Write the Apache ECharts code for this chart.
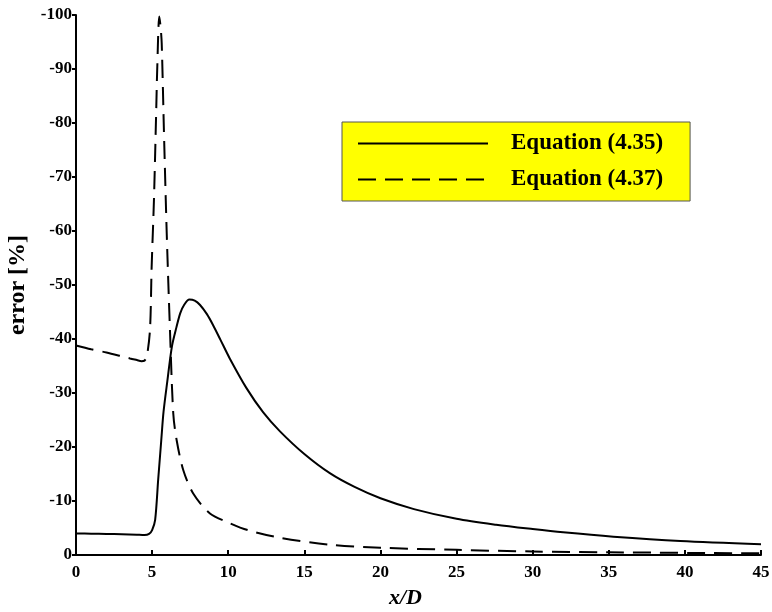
<!DOCTYPE html>
<html>
<head>
<meta charset="utf-8">
<title>error vs x/D</title>
<script src="https://cdn.jsdelivr.net/npm/echarts@6/dist/echarts.min.js"></script>
<style>
    html, body { margin: 0; padding: 0; background: #fff; }
    #chart { width: 772px; height: 612px; }
</style>
</head>
<body>
<div id="chart"></div>
<script>
'use strict';

// Equation (4.35), solid line
var eq435X = [0, 1, 2, 3, 4, 4.5, 4.8, 5.0, 5.2, 5.4, 5.6, 5.75, 6.0, 6.3, 6.6, 6.85, 7.1,
    7.45, 7.8, 8.15, 8.6, 9.0, 9.5, 10.1, 11.2, 12.3, 13.4, 15, 16.7, 18.3, 20, 22.2, 25,
    27.6, 30, 32, 35.3, 39.7, 45];
var eq435Y = [-4.0, -3.95, -3.9, -3.85, -3.75, -3.7, -3.9, -4.6, -6.5, -14, -21.2, -26.5,
    -32.2, -38.6, -42.2, -44.8, -46.3, -47.3, -47.1, -46.3, -44.6, -42.6, -39.8, -36.4,
    -30.9, -26.4, -22.9, -18.7, -15.1, -12.6, -10.5, -8.5, -6.7, -5.6, -4.8, -4.2, -3.4,
    -2.6, -2.0];

// Equation (4.37), dashed line
var eq437X = [0, 1, 2, 3, 3.55, 4.0, 4.3, 4.5, 4.65, 4.86, 4.97, 5.12, 5.26, 5.34, 5.47,
    5.55, 5.63, 5.78, 5.96, 6.18, 6.39, 6.61, 7.05, 7.7, 8.8, 10.1, 11.3, 13.4, 16.7, 20,
    25, 30, 35, 45];
var eq437Y = [-38.8, -38.1, -37.5, -36.8, -36.4, -36.1, -35.9, -36.0, -36.7, -41.7, -53.4,
    -65.7, -81.2, -90.4, -99.7, -98, -94.8, -78.1, -59.6, -41.1, -26.2, -21.3, -15.7,
    -11.4, -7.7, -5.9, -4.6, -3.2, -1.9, -1.35, -0.95, -0.65, -0.5, -0.3];

var seriesNames = ['Equation (4.35)', 'Equation (4.37)'];

var serif = '"Liberation Serif", "Times New Roman", serif';

function toPairs(xs, ys) {
    return xs.map(function (x, i) { return [x, ys[i]]; });
}

var chart = echarts.init(document.getElementById('chart'), null, { renderer: 'canvas' });

var options = {
    animation: false,
    backgroundColor: '#fff',
    grid: {
        left: 76, right: 11, top: 15, bottom: 57,
        containLabel: false,
        outerBoundsMode: 'none'
    },
    legend: {
        orient: 'vertical',
        left: 342,
        top: 122,
        padding: [10, 27, 10, 15],
        itemGap: 13,
        itemWidth: 130,
        itemHeight: 21,
        backgroundColor: '#ffff00',
        borderColor: '#555',
        borderWidth: 1,
        borderRadius: 0,
        selectedMode: false,
        data: seriesNames,
        // hide the symbol, keep only the line sample
        itemStyle: { color: 'rgba(0,0,0,0)', borderWidth: 0 },
        textStyle: {
            fontFamily: serif,
            fontWeight: 'bold',
            fontSize: 23,
            color: '#000',
            padding: [0, 0, 0, 18]
        }
    },
    xAxis: {
        type: 'value',
        min: 0,
        max: 45,
        interval: 5,
        name: 'x/D',
        nameLocation: 'middle',
        nameGap: 32,
        nameTextStyle: {
            fontFamily: serif, fontStyle: 'italic', fontWeight: 'bold',
            fontSize: 22, color: '#000', padding: [0, 26, 0, 0]
        },
        axisLine: { show: true, lineStyle: { color: '#000', width: 2 } },
        axisTick: { show: true, inside: true, length: 5, lineStyle: { color: '#000', width: 2 } },
        axisLabel: { fontFamily: serif, fontWeight: 'bold', fontSize: 17, color: '#000', margin: 9 },
        splitLine: { show: false }
    },
    yAxis: {
        type: 'value',
        min: -100,
        max: 0,
        interval: 10,
        inverse: true,
        name: 'error [%]',
        nameLocation: 'middle',
        nameGap: 44,
        nameTextStyle: {
            fontFamily: serif, fontWeight: 'bold', fontSize: 24, color: '#000'
        },
        axisLine: { show: true, lineStyle: { color: '#000', width: 2 } },
        axisTick: { show: true, inside: false, length: 4, lineStyle: { color: '#000', width: 2 } },
        axisLabel: { fontFamily: serif, fontWeight: 'bold', fontSize: 17, color: '#000', margin: 4 },
        splitLine: { show: false }
    },
    series: [
        {
            name: seriesNames[0],
            type: 'line',
            symbol: 'none',
            smooth: 0.3,
            data: toPairs(eq435X, eq435Y),
            lineStyle: { color: '#000', width: 2, type: 'solid' },
            itemStyle: { color: '#000' }
        },
        {
            name: seriesNames[1],
            type: 'line',
            symbol: 'none',
            smooth: 0.3,
            data: toPairs(eq437X, eq437Y),
            lineStyle: { color: '#000', width: 2, type: [18, 9] },
            itemStyle: { color: '#000' }
        }
    ]
};

chart.setOption(options);
</script>
</body>
</html>
